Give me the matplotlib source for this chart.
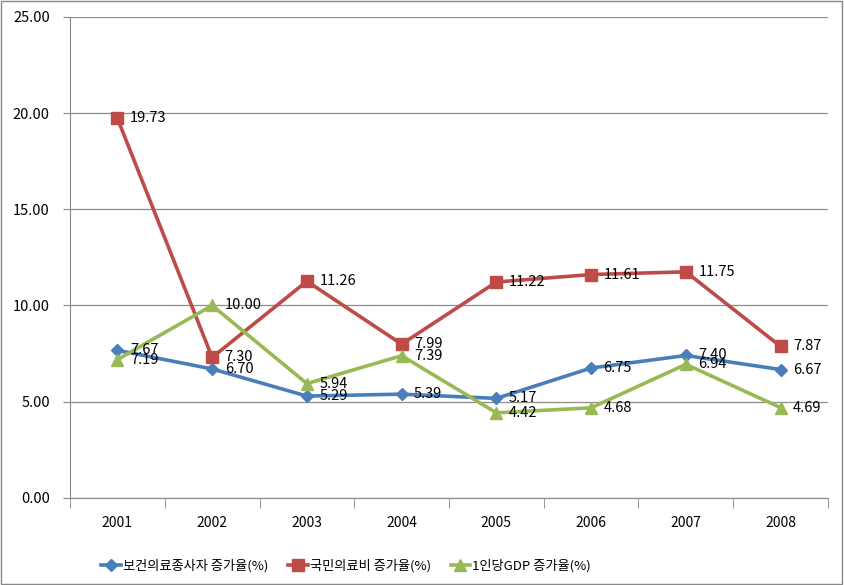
import matplotlib
matplotlib.use("Agg")
import matplotlib.pyplot as plt
from matplotlib.lines import Line2D
import numpy as np

plt.rcParams['font.family'] = ['Noto Sans CJK KR', 'DejaVu Sans']

years = ['2001', '2002', '2003', '2004', '2005', '2006', '2007', '2008']
workers = [7.67, 6.70, 5.29, 5.39, 5.17, 6.75, 7.40, 6.67]
medical = [19.73, 7.30, 11.26, 7.99, 11.22, 11.61, 11.75, 7.87]
gdp = [7.19, 10.00, 5.94, 7.39, 4.42, 4.68, 6.94, 4.69]
names = ['보건의료종사자 증가율(%)', '국민의료비 증가율(%)', '1인당GDP 증가율(%)']
colors = ['#4A7EBB', '#BE4B48', '#98B954']
markers = ['D', 's', '^']
msizes = [6, 8, 8]

fig = plt.figure(figsize=(8.44, 5.85), dpi=100)
ax = fig.add_axes([0.083, 0.149, 0.898, 0.822])
fig.patches.append(plt.Rectangle((0.001, 0.001), 0.997, 0.997, transform=fig.transFigure,
                                 fill=False, edgecolor='#888888', linewidth=1))

x = np.arange(len(years))
series = [workers, medical, gdp]
for vals, c, m, ms, n in zip(series, colors, markers, msizes, names):
    ax.plot(x, vals, color=c, marker=m, markersize=ms, linewidth=2.6, label=n,
            markeredgecolor=c)
    for xi, v in zip(x, vals):
        ax.annotate(f'{v:.2f}', (xi, v), xytext=(9, 0), textcoords='offset points',
                    ha='left', va='center', fontsize=10.5, color='black')

ax.set_xlim(-0.5, len(years) - 0.5)
ax.set_ylim(0, 25)
ax.set_yticks(np.arange(0, 25.01, 5))
ax.set_yticklabels([f'{v:.2f}' for v in np.arange(0, 25.01, 5)], fontsize=10.5)
ax.set_xticks(x)
ax.set_xticklabels(years, fontsize=10)
ax.set_xticks(np.arange(-0.5, len(years), 1), minor=True)
ax.tick_params(axis='x', which='major', length=0, pad=13)
ax.tick_params(axis='x', which='minor', length=7, color='#888888')
ax.tick_params(axis='y', length=5, color='#888888', pad=9.5)
ax.yaxis.grid(True, color='#8C8C8C', linewidth=0.9)
ax.set_axisbelow(True)
for s in ['top', 'right']:
    ax.spines[s].set_visible(False)
for s in ['left', 'bottom']:
    ax.spines[s].set_color('#888888')

handles = [Line2D([0], [0], color=c, marker=m, markersize=ms, linewidth=2.6, markeredgecolor=c)
           for c, m, ms in zip(colors, markers, msizes)]
fig.legend(handles, names, loc='center', bbox_to_anchor=(0.41, 0.033), ncol=3, frameon=False,
           fontsize=9.5, handlelength=1.5, handletextpad=0.15, columnspacing=1.5)

fig.savefig('out.png', dpi=100)
